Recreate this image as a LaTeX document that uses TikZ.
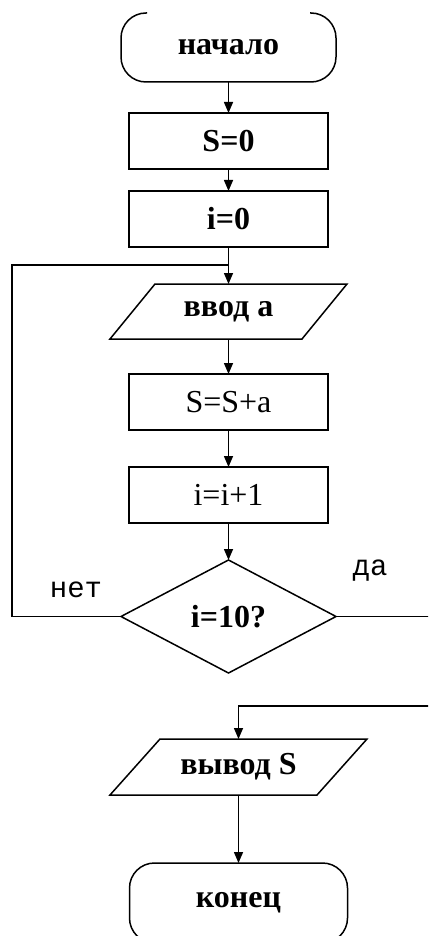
\documentclass[tikz,border=0pt]{standalone}
\usepackage{fontspec}
\setmainfont{Liberation Serif}
\newfontfamily\labelfont{Liberation Mono}
\usetikzlibrary{arrows.meta,shapes.geometric}
\tikzset{
  base/.style={inner sep=0pt, outer sep=0pt, font=\fontsize{32}{34}\selectfont\bfseries},
  proc/.style={base, draw, minimum width=199pt, minimum height=56pt},
  procreg/.style={proc, font=\fontsize{32}{34}\selectfont},
  shapeonly/.style={base, draw=none},
  decision/.style={base, draw, diamond, aspect=1.9, minimum width=215pt, minimum height=113pt},
  arr/.style={-{Triangle[length=11pt,width=9pt]}},
  lbl/.style={font=\labelfont\fontsize{29}{31}\selectfont, inner sep=0pt}
}
\begin{document}
\begin{tikzpicture}[x=1pt,y=-1pt,line width=1.5pt]
\useasboundingbox (0,0) rectangle (428,936);
\clip (0,0) rectangle (428,936);
\fill[white] (0,0) rectangle (428,936);

% start terminal (top edge not drawn)
\node[shapeonly, minimum width=215pt, minimum height=69pt] (start) at (228.5,47.5) {начало};
\draw[rounded corners=25pt] ([xshift=26pt]start.north west) -- (start.north west) -- (start.south west)
  -- (start.south east) -- (start.north east) -- ([xshift=-26pt]start.north east);

\node[proc] (s0) at (228.5,141) {S=0};
\node[proc] (i0) at (228.5,219) {i=0};

% input parallelogram
\node[shapeonly, minimum width=237pt, minimum height=55pt] (in) at (228.5,311.5) {ввод а};
\draw ([xshift=45pt]in.north west) -- (in.north east) -- ([xshift=-45pt]in.south east) -- (in.south west) -- cycle;

\node[procreg] (ssa) at (228.5,402) {S=S+a};
\node[procreg] (ii) at (228.5,495) {i=i+1};

\node[decision] (cond) at (228.5,616.5) {i=10?};

% output parallelogram
\node[shapeonly, minimum width=257pt, minimum height=56pt] (out) at (238.5,767) {вывод S};
\draw ([xshift=50pt]out.north west) -- (out.north east) -- ([xshift=-50pt]out.south east) -- (out.south west) -- cycle;

% end terminal
\node[shapeonly, minimum width=218pt, minimum height=80pt] (end) at (238.5,903) {конец};
\draw[rounded corners=25pt] (end.north west) rectangle (end.south east);

% labels
\node[lbl] (no) at (76,590) {нет};
\node[lbl] (yes) at (370,571) {да};

% connectors
\coordinate (j) at (228.5,265);
\coordinate (lp) at (12,616.5);
\coordinate (rp) at (445,616.5);
\coordinate (jo) at (238.5,706);

\draw[arr] (start) -- (s0);
\draw[arr] (s0) -- (i0);
\draw[arr] (i0) -- (in);
\draw (cond.west) -- (lp) |- (j);
\draw[arr] (in) -- (ssa);
\draw[arr] (ssa) -- (ii);
\draw[arr] (ii) -- (cond);
\draw[arr] (cond.east) -- (rp) |- (jo) -- (out);
\draw[arr] (out) -- (end);
\end{tikzpicture}
\end{document}
